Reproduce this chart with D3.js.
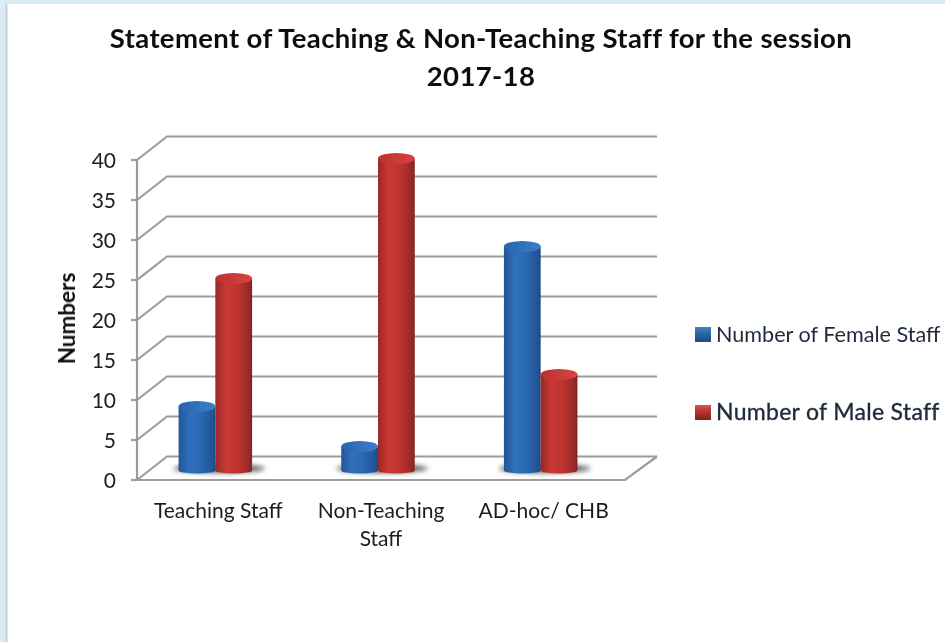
<!DOCTYPE html>
<html><head><meta charset="utf-8">
<script src="https://cdn.jsdelivr.net/npm/d3@7"></script>
<style>html,body{margin:0;padding:0;background:#fff}svg{display:block}text{font-family:Lato,"Open Sans",sans-serif;fill:#1c1c1c}</style>
</head><body><div id="c"></div>
<script>
const categories=[["Teaching Staff"],["Non-Teaching","Staff"],["AD-hoc/ CHB"]];
const categoryKeys=["Teaching Staff","Non-Teaching Staff","AD-hoc/ CHB"];
const seriesNames=["Number of Female Staff","Number of Male Staff"];
const femaleValues=[8,3,28];
const maleValues=[24,39,12];
const yTicks=[0,5,10,15,20,25,30,35,40];
const titleLines=["Statement of Teaching & Non-Teaching Staff for the session","2017-18"];
const axisTitle="Numbers";

const W=945,H=642;
const svg=d3.select("#c").append("svg").attr("width",W).attr("height",H);
const defs=svg.append("defs");
const f=defs.append("filter").attr("id","soft").attr("x","-5%").attr("y","-5%").attr("width","110%").attr("height","110%");
f.append("feGaussianBlur").attr("stdDeviation",0.7);
defs.append("filter").attr("id","shadow").attr("x","-30%").attr("y","-100%").attr("width","160%").attr("height","300%")
  .append("feGaussianBlur").attr("stdDeviation",2.5);
function grad(id,stops){const g=defs.append("linearGradient").attr("id",id);stops.forEach(s=>g.append("stop").attr("offset",s[0]).attr("stop-color",s[1]));}
grad("bBody",[[0,"#235696"],[.3,"#2f70bd"],[.6,"#2a68b2"],[.9,"#235596"],[1,"#1e4a85"]]);
grad("rBody",[[0,"#9a2826"],[.3,"#c93835"],[.6,"#bf3330"],[.9,"#9a2a28"],[1,"#862220"]]);
grad("bTop",[[0,"#2a64ad"],[1,"#3a7ecc"]]);
grad("rTop",[[0,"#b93230"],[1,"#d9443f"]]);
const lg1=defs.append("linearGradient").attr("id","bLeg").attr("x1",0).attr("y1",0).attr("x2",0).attr("y2",1);
[[0,"#3f85cf"],[.45,"#2c659f"],[1,"#1f4a7d"]].forEach(s=>lg1.append("stop").attr("offset",s[0]).attr("stop-color",s[1]));
const lg2=defs.append("linearGradient").attr("id","rLeg").attr("x1",0).attr("y1",0).attr("x2",0).attr("y2",1);
[[0,"#d9544f"],[.45,"#b53431"],[1,"#7f2220"]].forEach(s=>lg2.append("stop").attr("offset",s[0]).attr("stop-color",s[1]));

// page frame
svg.append("rect").attr("width",W).attr("height",H).attr("fill","#fff");
svg.append("rect").attr("width",W).attr("height",4).attr("fill","#dcecf4");
svg.append("rect").attr("width",6).attr("height",H).attr("fill","#dcecf4");
svg.append("rect").attr("x",5.5).attr("y",4).attr("width",2).attr("height",H).attr("fill","#c3ced6");

const root=svg.append("g").attr("filter","url(#soft)");
const y=d3.scaleLinear().domain([0,40]).range([480,160]);
const x=d3.scaleBand().domain(categoryKeys).range([137,625]);
const depthX=30,depthY=-23.5;
const lineCol="#9c9c9c";

// walls
const grid=root.append("g").attr("fill","none").attr("stroke",lineCol).attr("stroke-width",2.2);
yTicks.forEach(t=>{
  grid.append("path").attr("d",d3.line()([[137,y(t)],[137+depthX,y(t)+depthY],[657,y(t)+depthY]]));
  grid.append("line").attr("x1",131).attr("x2",137).attr("y1",y(t)).attr("y2",y(t));
});
grid.append("line").attr("x1",137).attr("x2",137).attr("y1",y(40)).attr("y2",y(0));
grid.append("path").attr("d",d3.line()([[137,y(0)],[625,y(0)],[657,y(0)+depthY]]));

// cylinders
const barY=d3.scaleLinear().domain([0,40]).range([470.5,150.5]);
const inner=d3.scaleBand().domain(seriesNames).range([0,73.5]);
const rx=inner.bandwidth()/2,ry=5.5,baseRy=3;
const series=[{name:seriesNames[0],vals:femaleValues,b:"bBody",t:"bTop"},{name:seriesNames[1],vals:maleValues,b:"rBody",t:"rTop"}];
const left=k=>x(k)+x.bandwidth()/2-3-36.75;
// shadows
categoryKeys.forEach(k=>{
  root.append("ellipse").attr("cx",left(k)+inner.bandwidth()+4).attr("cy",barY(0)-2)
    .attr("rx",inner.bandwidth()+9).attr("ry",4.5).attr("fill","#3c3c3c").attr("opacity",.8).attr("filter","url(#shadow)");
});
series.forEach(s=>{
  const g=root.append("g").selectAll("g").data(s.vals.map((v,i)=>({v,k:categoryKeys[i]}))).join("g")
    .attr("transform",d=>`translate(${left(d.k)+inner(s.name)},0)`);
  g.append("path").attr("fill",`url(#${s.b})`).attr("d",d=>{
    const t=barY(d.v),b=barY(0),w=2*rx;
    return `M0,${t}L0,${b}A${rx},${baseRy} 0 0 0 ${w},${b}L${w},${t}Z`;
  });
  g.append("ellipse").attr("cx",rx).attr("cy",d=>barY(d.v)).attr("rx",rx).attr("ry",ry).attr("fill",`url(#${s.t})`);
});

// tick labels
root.append("g").selectAll("text").data(yTicks).join("text")
  .attr("x",116).attr("y",d=>y(d)).attr("dy","0.36em").attr("text-anchor","end")
  .style("font-size","21px").text(d=>d);
// category labels
categories.forEach((lines,i)=>{
  const cx=x(categoryKeys[i])+x.bandwidth()/2;
  lines.forEach((l,j)=>root.append("text").attr("x",cx).attr("y",518+j*28).attr("text-anchor","middle")
    .style("font-size","21px").text(l));
});
// axis title
root.append("text").attr("transform","translate(75,318.5) rotate(-90)").attr("text-anchor","middle")
  .style("font-size","22.5px").style("font-weight",700).style("fill","#111").text(axisTitle);
// title
titleLines.forEach((l,i)=>root.append("text").attr("x",481).attr("y",48+i*38).attr("text-anchor","middle")
  .style("font-size","27.5px").style("letter-spacing","0.35px").style("font-weight",700).style("fill","#111").text(l));
// legend
const legY=[335,413],legF=["bLeg","rLeg"];
const legSize=["21.6px","23px"];
seriesNames.forEach((n,i)=>{
  root.append("rect").attr("x",695).attr("y",legY[i]-8).attr("width",16).attr("height",15).attr("fill",`url(#${legF[i]})`);
  root.append("text").attr("x",716).attr("y",legY[i]+7).style("font-size",legSize[i])
    .style("letter-spacing",i?"0.3px":"0").style("stroke",i?"#1f2a3a":"none").style("stroke-width",i?0.35:0)
    .style("fill","#1f2a3a").text(n);
});
</script></body></html>
